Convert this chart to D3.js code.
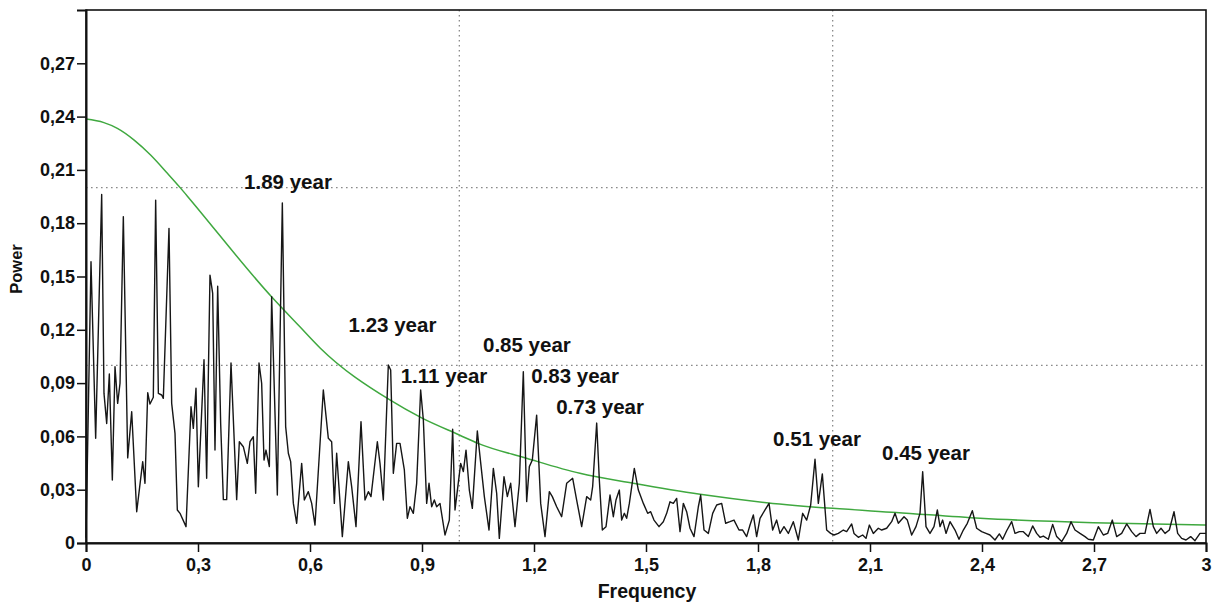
<!DOCTYPE html>
<html>
<head>
<meta charset="utf-8">
<script src="https://cdn.jsdelivr.net/npm/d3@7"></script>
<style>
  html, body { margin: 0; padding: 0; background: #fff; }
  svg { display: block; }
  text { font-family: "Liberation Sans", Arial, sans-serif; font-weight: bold; fill: #111; }
</style>
</head>
<body>
<svg id="chart" width="1216" height="603"></svg>
<script>
// Periodogram: frequency (cycles per year) and spectral power
const spectrumFreq = [
  0, 0.0134, 0.0259, 0.042, 0.0482, 0.0554, 0.0625, 0.0705, 0.0777, 0.0848, 0.0911, 0.1,
  0.1117, 0.1224, 0.1358, 0.1519, 0.158, 0.1653, 0.1714, 0.1803, 0.1866, 0.1938, 0.2027, 0.2071,
  0.2223, 0.2295, 0.2384, 0.2446, 0.2518, 0.2679, 0.2813, 0.2875, 0.2946, 0.3009, 0.3161, 0.3232,
  0.3321, 0.3393, 0.3455, 0.3527, 0.3607, 0.3679, 0.3768, 0.3884, 0.4036, 0.4107, 0.4214, 0.4321,
  0.4393, 0.4482, 0.4545, 0.4634, 0.4705, 0.4768, 0.4821, 0.4911, 0.4973, 0.5125, 0.5259, 0.5348,
  0.542, 0.5482, 0.5554, 0.5643, 0.5777, 0.5848, 0.5955, 0.6045, 0.6134, 0.6357, 0.6491, 0.658,
  0.6652, 0.6714, 0.6866, 0.7027, 0.7116, 0.7232, 0.7366, 0.7473, 0.7563, 0.7634, 0.7804, 0.7875,
  0.7964, 0.8098, 0.8161, 0.8232, 0.8321, 0.8411, 0.8527, 0.8607, 0.8679, 0.8768, 0.8857, 0.8964,
  0.9036, 0.9125, 0.9188, 0.9259, 0.933, 0.9393, 0.9482, 0.9616, 0.9732, 0.9821, 0.9884, 1.0036,
  1.0107, 1.0179, 1.0268, 1.0348, 1.0482, 1.0554, 1.067, 1.0795, 1.0911, 1.1, 1.1071, 1.1196,
  1.1286, 1.1375, 1.1491, 1.1607, 1.1714, 1.1804, 1.1875, 1.1955, 1.2071, 1.2179, 1.2295, 1.2411,
  1.2491, 1.2607, 1.2741, 1.2875, 1.3036, 1.3143, 1.3277, 1.3411, 1.3518, 1.3571, 1.3679, 1.375,
  1.383, 1.3929, 1.4036, 1.4125, 1.4196, 1.4286, 1.4348, 1.442, 1.4482, 1.4554, 1.4687, 1.4795,
  1.4929, 1.5045, 1.5125, 1.5214, 1.5348, 1.5464, 1.5554, 1.5643, 1.5732, 1.5821, 1.5911, 1.6,
  1.6089, 1.6179, 1.6286, 1.6402, 1.6464, 1.6554, 1.667, 1.6786, 1.6893, 1.7027, 1.7134, 1.725,
  1.7357, 1.7491, 1.7589, 1.7696, 1.7786, 1.7875, 1.7964, 1.8054, 1.8188, 1.8295, 1.8393, 1.85,
  1.8589, 1.8696, 1.8813, 1.8946, 1.908, 1.9196, 1.9304, 1.9411, 1.9527, 1.9616, 1.9723, 1.9839,
  1.9946, 2.0036, 2.0152, 2.0286, 2.0375, 2.0509, 2.0571, 2.0688, 2.0804, 2.0893, 2.0982, 2.1089,
  2.1223, 2.1313, 2.1446, 2.158, 2.167, 2.1759, 2.1911, 2.2, 2.2116, 2.2232, 2.2339, 2.2411,
  2.25, 2.2607, 2.2714, 2.2804, 2.2875, 2.2946, 2.3036, 2.3143, 2.3277, 2.3384, 2.35, 2.3607,
  2.3741, 2.3857, 2.3991, 2.4107, 2.4214, 2.4348, 2.4464, 2.4554, 2.4661, 2.4795, 2.4884, 2.5,
  2.5107, 2.5241, 2.5357, 2.5464, 2.5554, 2.5643, 2.5777, 2.5893, 2.6, 2.6134, 2.6268, 2.6384,
  2.6491, 2.6625, 2.6759, 2.6848, 2.6982, 2.7116, 2.725, 2.7366, 2.7491, 2.7607, 2.7741, 2.7875,
  2.8009, 2.8125, 2.8232, 2.8366, 2.85, 2.8589, 2.8679, 2.8795, 2.8902, 2.9018, 2.9143, 2.9241,
  2.9348, 2.9464, 2.9589, 2.9705, 2.9839, 3
];
const spectrumPower = [
  0.003, 0.1583, 0.0589, 0.1962, 0.0842, 0.0673, 0.0951, 0.0355, 0.0992, 0.0786, 0.0899, 0.1837,
  0.0479, 0.0739, 0.0176, 0.0458, 0.0336, 0.0846, 0.0782, 0.082, 0.193, 0.0842, 0.0833, 0.0814,
  0.1771, 0.0786, 0.0617, 0.0186, 0.0167, 0.0092, 0.0767, 0.0645, 0.0871, 0.0317, 0.1032, 0.0364,
  0.1508, 0.1405, 0.0523, 0.1445, 0.0673, 0.0244, 0.0244, 0.1013, 0.0244, 0.057, 0.0542, 0.0448,
  0.057, 0.0598, 0.028, 0.1013, 0.0899, 0.0467, 0.0523, 0.043, 0.1386, 0.027, 0.1914, 0.0655,
  0.0505, 0.0458, 0.0223, 0.0111, 0.0448, 0.0242, 0.0289, 0.0223, 0.0101, 0.0861, 0.0589, 0.057,
  0.0223, 0.0505, 0.0036, 0.0458, 0.0317, 0.0092, 0.0683, 0.0242, 0.0289, 0.0261, 0.057, 0.0448,
  0.0242, 0.1002, 0.0974, 0.0392, 0.0561, 0.0561, 0.0411, 0.0139, 0.0204, 0.0167, 0.0336, 0.0861,
  0.0692, 0.0223, 0.0336, 0.0204, 0.0242, 0.0204, 0.0223, 0.0045, 0.0129, 0.064, 0.0186, 0.0448,
  0.0402, 0.0523, 0.0298, 0.0195, 0.063, 0.0486, 0.0261, 0.0073, 0.042, 0.028, 0.0026, 0.0373,
  0.0261, 0.0336, 0.0092, 0.0336, 0.0964, 0.0233, 0.043, 0.0467, 0.072, 0.0223, 0.0036, 0.0289,
  0.0261, 0.0204, 0.0148, 0.0336, 0.0364, 0.0242, 0.0092, 0.0261, 0.0242, 0.0317, 0.0675, 0.0355,
  0.0073, 0.0092, 0.027, 0.0148, 0.0242, 0.0298, 0.0129, 0.0167, 0.0139, 0.0223, 0.042, 0.0298,
  0.0223, 0.0167, 0.0176, 0.0129, 0.0092, 0.012, 0.0167, 0.0232, 0.0223, 0.0251, 0.0064, 0.0223,
  0.0176, 0.0083, 0.0036, 0.0204, 0.027, 0.0073, 0.0054, 0.0167, 0.0214, 0.0223, 0.0111, 0.012,
  0.0129, 0.0073, 0.0073, 0.0036, 0.0101, 0.0158, 0.0036, 0.0139, 0.0186, 0.0223, 0.0073, 0.0129,
  0.0054, 0.0092, 0.0054, 0.012, 0.0017, 0.0167, 0.0129, 0.0214, 0.0471, 0.0223, 0.0389, 0.0073,
  0.0054, 0.0045, 0.0054, 0.0073, 0.0064, 0.0107, 0.0054, 0.0032, 0.0045, 0.0026, 0.0101, 0.0054,
  0.0083, 0.0073, 0.0083, 0.012, 0.0167, 0.0111, 0.0148, 0.0129, 0.0045, 0.0092, 0.0167, 0.0401,
  0.0092, 0.0054, 0.0092, 0.0186, 0.0092, 0.0129, 0.0054, 0.012, 0.0073, 0.0021, 0.0073, 0.0111,
  0.0182, 0.0083, 0.0064, 0.0054, 0.0045, 0.0017, 0.0051, 0.0021, 0.0069, 0.012, 0.0054, 0.0064,
  0.0064, 0.0036, 0.0096, 0.0054, 0.0032, 0.0039, 0.0021, 0.0105, 0.0036, 0.0008, 0.0054, 0.012,
  0.0073, 0.0054, 0.0036, 0.0021, 0.0017, 0.0092, 0.0045, 0.0054, 0.0129, 0.0036, 0.0054, 0.0107,
  0.0064, 0.0036, 0.0054, 0.0054, 0.0189, 0.0092, 0.0054, 0.0083, 0.0054, 0.0073, 0.0176, 0.0054,
  0.0026, 0.0017, 0.0036, 0.0013, 0.0054, 0.0054
];

// Red-noise background spectrum
const noiseFreq = [0, 0.048, 0.084, 0.129, 0.173, 0.218, 0.254, 0.28, 0.497, 0.573, 0.627,
  0.814, 0.899, 1.0, 1.05, 1.18, 1.323, 1.466, 1.645, 1.823, 2.0, 2.17, 2.395, 2.698, 3.0];
const noisePower = [0.2386, 0.2366, 0.2334, 0.2268, 0.2184, 0.2081, 0.1996, 0.1931, 0.1386, 0.1217, 0.1098,
  0.0805, 0.0704, 0.0608, 0.0561, 0.0477, 0.0392, 0.0336, 0.0274, 0.0227, 0.0195, 0.0172, 0.0139, 0.0114, 0.0101];

// Period annotations: label text with the frequency / power where it sits
const periodLabels = ["1.89 year", "1.23 year", "1.11 year", "0.85 year", "0.83 year", "0.73 year", "0.51 year", "0.45 year"];
const labelFreq = [0.541, 0.821, 0.959, 1.181, 1.310, 1.377, 1.958, 2.250];
const labelPower = [0.1992, 0.1188, 0.0901, 0.1075, 0.0903, 0.0726, 0.0548, 0.0467];

// Axis ticks and reference grid
const xTicks = [0, 0.3, 0.6, 0.9, 1.2, 1.5, 1.8, 2.1, 2.4, 2.7, 3];
const yTicks = [0, 0.03, 0.06, 0.09, 0.12, 0.15, 0.18, 0.21, 0.24, 0.27];
const gridX = [1, 2];
const gridY = [0.1, 0.2];

(function draw() {
  const svg = d3.select("#chart");
  const plot = { left: 86, right: 1206, top: 10, bottom: 543 };

  const x = d3.scaleLinear().domain([0, 3]).range([plot.left, plot.right]);
  const y = d3.scaleLinear().domain([0, 0.3]).range([plot.bottom, plot.top]);

  const comma = v => String(v).replace(".", ",");

  // dotted reference lines
  const grid = svg.append("g").attr("stroke", "#8a8a8a").attr("stroke-width", 1.3)
    .attr("stroke-dasharray", "1.6,3.4");
  grid.selectAll("line.gx").data(gridX).join("line").attr("class", "gx")
    .attr("x1", d => x(d)).attr("x2", d => x(d)).attr("y1", plot.top).attr("y2", plot.bottom);
  grid.selectAll("line.gy").data(gridY).join("line").attr("class", "gy")
    .attr("x1", plot.left).attr("x2", plot.right).attr("y1", d => y(d)).attr("y2", d => y(d));

  // background noise curve
  const noiseData = noiseFreq.map((f, i) => [f, noisePower[i]]);
  svg.append("path").datum(noiseData)
    .attr("fill", "none").attr("stroke", "#3fa83f").attr("stroke-width", 1.5)
    .attr("d", d3.line().x(d => x(d[0])).y(d => y(d[1])).curve(d3.curveMonotoneX));

  // spectrum
  const specData = spectrumFreq.map((f, i) => [f, spectrumPower[i]]);
  svg.append("path").datum(specData)
    .attr("fill", "none").attr("stroke", "#161616").attr("stroke-width", 1.4)
    .attr("stroke-linejoin", "round")
    .attr("d", d3.line().x(d => x(d[0])).y(d => y(d[1])));

  // frame
  svg.append("rect").attr("x", plot.left).attr("y", plot.top)
    .attr("width", plot.right - plot.left).attr("height", plot.bottom - plot.top)
    .attr("fill", "none").attr("stroke", "#111").attr("stroke-width", 1.6);

  // axes
  const xAxis = svg.append("g").attr("transform", `translate(0,${plot.bottom})`)
    .call(d3.axisBottom(x).tickValues(xTicks).tickFormat(comma).tickSize(9).tickPadding(6));
  const yAxis = svg.append("g").attr("transform", `translate(${plot.left},0)`)
    .call(d3.axisLeft(y).tickValues(yTicks).tickFormat(comma).tickSize(9).tickPadding(2));
  [xAxis, yAxis].forEach(g => {
    g.select(".domain").attr("stroke", "#111").attr("stroke-width", 2);
    g.selectAll(".tick line").attr("stroke", "#111").attr("stroke-width", 1.5);
    g.selectAll(".tick text").attr("font-size", 18).attr("font-weight", "bold")
      .attr("font-family", "'Liberation Sans', Arial, sans-serif").attr("fill", "#111");
  });

  // axis titles
  svg.append("text").attr("x", (plot.left + plot.right) / 2 + 1).attr("y", 598)
    .attr("text-anchor", "middle").attr("font-size", 19.5).text("Frequency");
  svg.append("text").attr("transform", "translate(22,269) rotate(-90)")
    .attr("text-anchor", "middle").attr("font-size", 16.5).text("Power");

  // period annotations
  svg.append("g").selectAll("text").data(periodLabels).join("text")
    .attr("x", (d, i) => x(labelFreq[i]))
    .attr("y", (d, i) => y(labelPower[i]))
    .attr("text-anchor", "middle").attr("font-size", 20.5)
    .text(d => d);
})();
</script>
</body>
</html>
